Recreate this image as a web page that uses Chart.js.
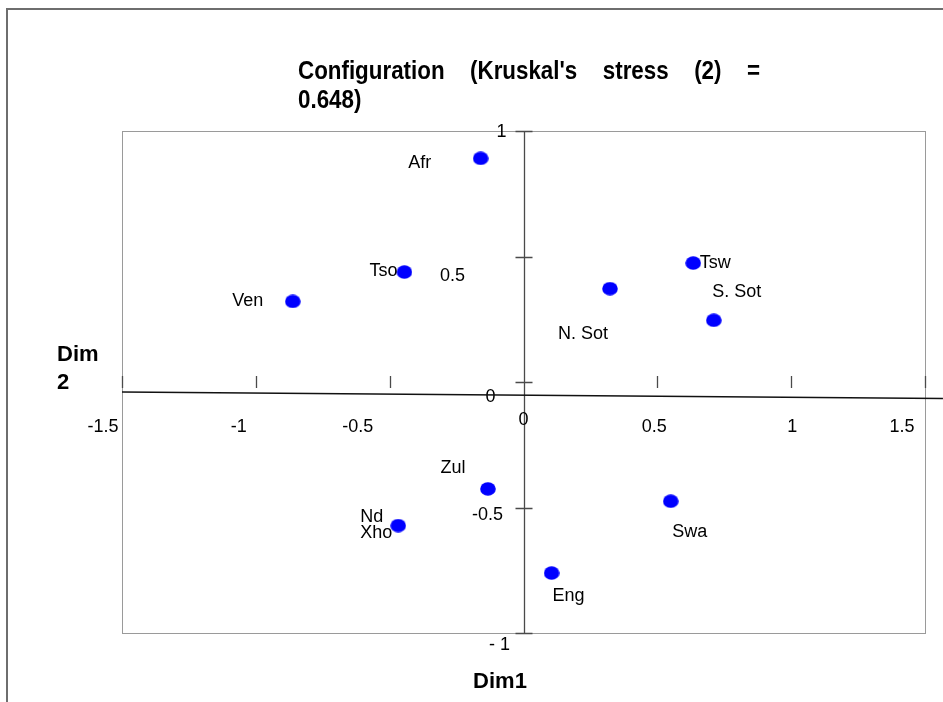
<!DOCTYPE html>
<html>
<head>
<meta charset="utf-8">
<script src="https://cdn.jsdelivr.net/npm/chart.js@4/dist/chart.umd.min.js"></script>
<style>
  html, body { margin: 0; padding: 0; background: #ffffff; }
  #wrap { width: 943px; height: 702px; position: relative; }
</style>
</head>
<body>
<div id="wrap"><canvas id="c" width="943" height="702"></canvas></div>
<script>
// MDS configuration of the eleven languages (two share a point)
const languages = ['Afr', 'Tso', 'Ven', 'N. Sot', 'Tsw', 'S. Sot', 'Zul', 'Nd\nXho', 'Swa', 'Eng'];
const dim1 = [-0.160, -0.445, -0.862, 0.323, 0.634, 0.711, -0.133, -0.468, 0.550, 0.105];
const dim2 = [0.891, 0.438, 0.321, 0.372, 0.474, 0.246, -0.426, -0.572, -0.475, -0.761];

const xTicks = [-1.5, -1, -0.5, 0, 0.5, 1, 1.5];
const xTickLabels = ['-1.5', '-1', '-0.5', '0', '0.5', '1', '1.5'];
const yTicks = [1, 0.5, 0, -0.5, -1];
const yTickLabels = ['1', '0.5', '0', '-0.5', '- 1'];

const stress = '0.648';
// reference line drawn across the configuration
const baseLine = [{ x: -1.5, y: -0.040 }, { x: 1.567, y: -0.066 }];

// label placement relative to each point, in pixels: [dx, dy, align]
const labelPlacement = [
  [-61, 5, 'center'], [-21, -1, 'center'], [-45, 0, 'center'], [-27, 45, 'center'],
  [22, 0, 'center'], [23, -28, 'center'], [-35, -21, 'center'], [-38, -9, 'left'],
  [19, 31, 'center'], [17, 23, 'center']
];
// tick label nudges in pixels: [dx, dy]
const xTickNudge = [[-19, 45], [-17, 45], [-32, 45], [0, 38], [-3, 45], [1, 45], [-23, 45]];
const yTickNudge = [[-22, 1], [-71, 20], [-33, 15], [-36, 8], [-24, 12]];

const FONT = "'Liberation Sans', Arial, sans-serif";

// slightly flattened round marker
function makeMarker() {
  const m = document.createElement('canvas');
  m.width = 16; m.height = 14;
  const g = m.getContext('2d');
  g.fillStyle = '#0000ff';
  g.beginPath();
  g.ellipse(8, 7, 7.8, 6.8, 0, 0, Math.PI * 2);
  g.fill();
  return m;
}

const points = dim1.map((x, i) => ({ x: x, y: dim2[i] }));

// condensed bold text: regular bold face squeezed horizontally
function narrowText(ctx, text, x, y, squeeze) {
  ctx.save();
  ctx.translate(x, y);
  ctx.scale(squeeze, 1);
  ctx.fillText(text, 0, 0);
  ctx.restore();
}

const framePlugin = {
  id: 'frame',
  beforeDatasetsDraw(chart) {
    const ctx = chart.ctx;
    const a = chart.chartArea;
    const xs = chart.scales.x, ys = chart.scales.y;
    const x0 = xs.getPixelForValue(0), y0 = ys.getPixelForValue(0);
    ctx.save();
    // outer frame (top and left)
    ctx.strokeStyle = '#6e6e6e';
    ctx.lineWidth = 2;
    ctx.beginPath();
    ctx.moveTo(7, 702); ctx.lineTo(7, 9); ctx.lineTo(943, 9);
    ctx.stroke();
    // plot border
    ctx.strokeStyle = '#9a9a9a';
    ctx.lineWidth = 1;
    ctx.strokeRect(a.left + 0.5, a.top + 0.5, a.right - a.left, a.bottom - a.top);
    // vertical axis with ticks
    ctx.strokeStyle = '#4a4a4a';
    ctx.lineWidth = 1.3;
    ctx.beginPath();
    ctx.moveTo(Math.round(x0) + 0.5, a.top); ctx.lineTo(Math.round(x0) + 0.5, a.bottom);
    yTicks.forEach(v => {
      const py = Math.round(ys.getPixelForValue(v)) + 0.5;
      ctx.moveTo(x0 - 8, py); ctx.lineTo(x0 + 9, py);
    });
    // horizontal axis ticks
    xTicks.forEach(v => {
      const px = Math.round(xs.getPixelForValue(v)) + 0.5;
      ctx.moveTo(px, y0 - 6); ctx.lineTo(px, y0 + 6);
    });
    ctx.stroke();
    // tick labels
    ctx.fillStyle = '#000000';
    ctx.font = '18px ' + FONT;
    ctx.textAlign = 'center';
    ctx.textBaseline = 'middle';
    xTicks.forEach((v, i) => {
      ctx.fillText(xTickLabels[i], xs.getPixelForValue(v) + xTickNudge[i][0], y0 + xTickNudge[i][1]);
    });
    yTicks.forEach((v, i) => {
      ctx.fillText(yTickLabels[i], x0 + yTickNudge[i][0], ys.getPixelForValue(v) + yTickNudge[i][1]);
    });
    ctx.restore();
  },
  afterDatasetsDraw(chart) {
    const ctx = chart.ctx;
    const meta = chart.getDatasetMeta(1);
    ctx.save();
    ctx.fillStyle = '#000000';
    ctx.font = '18px ' + FONT;
    ctx.textBaseline = 'middle';
    meta.data.forEach((el, i) => {
      const [dx, dy, align] = labelPlacement[i];
      ctx.textAlign = align;
      languages[i].split('\n').forEach((line, k) => {
        ctx.fillText(line, el.x + dx, el.y + dy + k * 16);
      });
    });

    // title, justified over its first line
    const squeeze = 0.86;
    ctx.font = 'bold 26px ' + FONT;
    ctx.textAlign = 'left';
    const words = ['Configuration', "(Kruskal's", 'stress', '(2)', '='];
    const left = 298, right = 760;
    const total = words.reduce((s, w) => s + ctx.measureText(w).width * squeeze, 0);
    const gap = (right - left - total) / (words.length - 1);
    let cx = left;
    words.forEach(w => { narrowText(ctx, w, cx, 72, squeeze); cx += ctx.measureText(w).width * squeeze + gap; });
    narrowText(ctx, stress + ')', left, 101, squeeze);

    // axis titles
    ctx.font = 'bold 22px ' + FONT;
    ctx.fillText('Dim', 57, 355);
    ctx.fillText('2', 57, 383);
    ctx.textAlign = 'center';
    ctx.fillText('Dim1', 500, 682);
    ctx.restore();
  }
};

new Chart(document.getElementById('c'), {
  type: 'scatter',
  data: {
    datasets: [
      {
        type: 'line',
        data: baseLine,
        borderColor: '#111111',
        borderWidth: 1.4,
        pointRadius: 0,
        fill: false,
        clip: false,
        order: 2
      },
      {
        data: points,
        pointStyle: makeMarker(),
        pointRadius: 7,
        order: 1
      }
    ]
  },
  options: {
    responsive: false,
    animation: false,
    devicePixelRatio: 1,
    layout: { padding: { left: 122, right: 18, top: 131, bottom: 69 } },
    scales: {
      x: { type: 'linear', min: -1.5, max: 1.5, display: false },
      y: { type: 'linear', min: -1, max: 1, display: false }
    },
    plugins: { legend: { display: false }, tooltip: { enabled: false }, title: { display: false } }
  },
  plugins: [framePlugin]
});
</script>
</body>
</html>
